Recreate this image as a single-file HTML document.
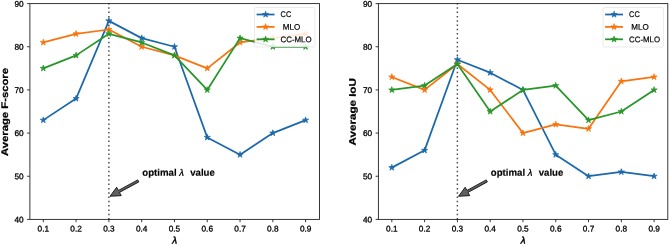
<!DOCTYPE html>
<html><head><meta charset="utf-8"><style>
html,body{margin:0;padding:0;background:#fff;}
svg{display:block;will-change:transform;}
text{font-family:"Liberation Sans",sans-serif;fill:#000;}
.tk{font-size:8.25px;stroke:#000;stroke-width:0.3px;}
.yl{font-size:9.6px;font-weight:bold;stroke:#000;stroke-width:0.25px;}
.lg{font-size:8.2px;stroke:#000;stroke-width:0.2px;}
.an{font-size:9.6px;font-weight:bold;stroke:#000;stroke-width:0.15px;}
.anl{font-size:9.4px;font-style:italic;stroke:#000;stroke-width:0.3px;}
.lam{font-size:9.7px;font-style:italic;stroke:#000;stroke-width:0.45px;}
</style></head><body>
<svg width="669" height="245" viewBox="0 0 669 245">
<rect width="669" height="245" fill="#fff"/>
<line x1="108.88" y1="3.00" x2="108.88" y2="219.60" stroke="#484848" stroke-width="1.45" stroke-dasharray="1.5 2.8"/>
<polyline points="43.30,120.13 76.09,98.55 108.88,20.86 141.67,38.13 174.46,46.76 207.25,137.40 240.04,154.66 272.83,133.08 305.62,120.13" fill="none" stroke="#1c69aa" stroke-width="1.75" stroke-linejoin="round"/>
<polygon points="43.30,116.88 42.57,119.13 40.21,119.13 42.12,120.52 41.39,122.76 43.30,121.37 45.21,122.76 44.48,120.52 46.39,119.13 44.03,119.13" fill="#1c69aa" stroke="#1c69aa" stroke-width="0.7"/>
<polygon points="76.09,95.30 75.36,97.55 73.00,97.55 74.91,98.94 74.18,101.18 76.09,99.79 78.00,101.18 77.27,98.94 79.18,97.55 76.82,97.55" fill="#1c69aa" stroke="#1c69aa" stroke-width="0.7"/>
<polygon points="108.88,17.61 108.15,19.86 105.79,19.86 107.70,21.25 106.97,23.49 108.88,22.11 110.79,23.49 110.06,21.25 111.97,19.86 109.61,19.86" fill="#1c69aa" stroke="#1c69aa" stroke-width="0.7"/>
<polygon points="141.67,34.88 140.94,37.12 138.58,37.12 140.49,38.51 139.76,40.76 141.67,39.37 143.58,40.76 142.85,38.51 144.76,37.12 142.40,37.12" fill="#1c69aa" stroke="#1c69aa" stroke-width="0.7"/>
<polygon points="174.46,43.51 173.73,45.76 171.37,45.76 173.28,47.14 172.55,49.39 174.46,48.00 176.37,49.39 175.64,47.14 177.55,45.76 175.19,45.76" fill="#1c69aa" stroke="#1c69aa" stroke-width="0.7"/>
<polygon points="207.25,134.15 206.52,136.39 204.16,136.39 206.07,137.78 205.34,140.03 207.25,138.64 209.16,140.03 208.43,137.78 210.34,136.39 207.98,136.39" fill="#1c69aa" stroke="#1c69aa" stroke-width="0.7"/>
<polygon points="240.04,151.41 239.31,153.66 236.95,153.66 238.86,155.04 238.13,157.29 240.04,155.90 241.95,157.29 241.22,155.04 243.13,153.66 240.77,153.66" fill="#1c69aa" stroke="#1c69aa" stroke-width="0.7"/>
<polygon points="272.83,129.83 272.10,132.08 269.74,132.08 271.65,133.46 270.92,135.71 272.83,134.32 274.74,135.71 274.01,133.46 275.92,132.08 273.56,132.08" fill="#1c69aa" stroke="#1c69aa" stroke-width="0.7"/>
<polygon points="305.62,116.88 304.89,119.13 302.53,119.13 304.44,120.52 303.71,122.76 305.62,121.37 307.53,122.76 306.80,120.52 308.71,119.13 306.35,119.13" fill="#1c69aa" stroke="#1c69aa" stroke-width="0.7"/>
<polyline points="43.30,42.44 76.09,33.81 108.88,29.50 141.67,46.76 174.46,55.39 207.25,68.34 240.04,42.44 272.83,38.13 305.62,33.81" fill="none" stroke="#f7740f" stroke-width="1.75" stroke-linejoin="round"/>
<polygon points="43.30,39.19 42.57,41.44 40.21,41.44 42.12,42.83 41.39,45.07 43.30,43.69 45.21,45.07 44.48,42.83 46.39,41.44 44.03,41.44" fill="#f7740f" stroke="#f7740f" stroke-width="0.7"/>
<polygon points="76.09,30.56 75.36,32.81 73.00,32.81 74.91,34.20 74.18,36.44 76.09,35.05 78.00,36.44 77.27,34.20 79.18,32.81 76.82,32.81" fill="#f7740f" stroke="#f7740f" stroke-width="0.7"/>
<polygon points="108.88,26.25 108.15,28.49 105.79,28.49 107.70,29.88 106.97,32.13 108.88,30.74 110.79,32.13 110.06,29.88 111.97,28.49 109.61,28.49" fill="#f7740f" stroke="#f7740f" stroke-width="0.7"/>
<polygon points="141.67,43.51 140.94,45.76 138.58,45.76 140.49,47.14 139.76,49.39 141.67,48.00 143.58,49.39 142.85,47.14 144.76,45.76 142.40,45.76" fill="#f7740f" stroke="#f7740f" stroke-width="0.7"/>
<polygon points="174.46,52.14 173.73,54.39 171.37,54.39 173.28,55.78 172.55,58.02 174.46,56.63 176.37,58.02 175.64,55.78 177.55,54.39 175.19,54.39" fill="#f7740f" stroke="#f7740f" stroke-width="0.7"/>
<polygon points="207.25,65.09 206.52,67.34 204.16,67.34 206.07,68.72 205.34,70.97 207.25,69.58 209.16,70.97 208.43,68.72 210.34,67.34 207.98,67.34" fill="#f7740f" stroke="#f7740f" stroke-width="0.7"/>
<polygon points="240.04,39.19 239.31,41.44 236.95,41.44 238.86,42.83 238.13,45.07 240.04,43.69 241.95,45.07 241.22,42.83 243.13,41.44 240.77,41.44" fill="#f7740f" stroke="#f7740f" stroke-width="0.7"/>
<polygon points="272.83,34.88 272.10,37.12 269.74,37.12 271.65,38.51 270.92,40.76 272.83,39.37 274.74,40.76 274.01,38.51 275.92,37.12 273.56,37.12" fill="#f7740f" stroke="#f7740f" stroke-width="0.7"/>
<polygon points="305.62,30.56 304.89,32.81 302.53,32.81 304.44,34.20 303.71,36.44 305.62,35.05 307.53,36.44 306.80,34.20 308.71,32.81 306.35,32.81" fill="#f7740f" stroke="#f7740f" stroke-width="0.7"/>
<polyline points="43.30,68.34 76.09,55.39 108.88,33.81 141.67,42.44 174.46,55.39 207.25,89.92 240.04,38.13 272.83,46.76 305.62,46.76" fill="none" stroke="#289629" stroke-width="1.75" stroke-linejoin="round"/>
<polygon points="43.30,65.09 42.57,67.34 40.21,67.34 42.12,68.72 41.39,70.97 43.30,69.58 45.21,70.97 44.48,68.72 46.39,67.34 44.03,67.34" fill="#289629" stroke="#289629" stroke-width="0.7"/>
<polygon points="76.09,52.14 75.36,54.39 73.00,54.39 74.91,55.78 74.18,58.02 76.09,56.63 78.00,58.02 77.27,55.78 79.18,54.39 76.82,54.39" fill="#289629" stroke="#289629" stroke-width="0.7"/>
<polygon points="108.88,30.56 108.15,32.81 105.79,32.81 107.70,34.20 106.97,36.44 108.88,35.05 110.79,36.44 110.06,34.20 111.97,32.81 109.61,32.81" fill="#289629" stroke="#289629" stroke-width="0.7"/>
<polygon points="141.67,39.19 140.94,41.44 138.58,41.44 140.49,42.83 139.76,45.07 141.67,43.69 143.58,45.07 142.85,42.83 144.76,41.44 142.40,41.44" fill="#289629" stroke="#289629" stroke-width="0.7"/>
<polygon points="174.46,52.14 173.73,54.39 171.37,54.39 173.28,55.78 172.55,58.02 174.46,56.63 176.37,58.02 175.64,55.78 177.55,54.39 175.19,54.39" fill="#289629" stroke="#289629" stroke-width="0.7"/>
<polygon points="207.25,86.67 206.52,88.92 204.16,88.92 206.07,90.30 205.34,92.55 207.25,91.16 209.16,92.55 208.43,90.30 210.34,88.92 207.98,88.92" fill="#289629" stroke="#289629" stroke-width="0.7"/>
<polygon points="240.04,34.88 239.31,37.12 236.95,37.12 238.86,38.51 238.13,40.76 240.04,39.37 241.95,40.76 241.22,38.51 243.13,37.12 240.77,37.12" fill="#289629" stroke="#289629" stroke-width="0.7"/>
<polygon points="272.83,43.51 272.10,45.76 269.74,45.76 271.65,47.14 270.92,49.39 272.83,48.00 274.74,49.39 274.01,47.14 275.92,45.76 273.56,45.76" fill="#289629" stroke="#289629" stroke-width="0.7"/>
<polygon points="305.62,43.51 304.89,45.76 302.53,45.76 304.44,47.14 303.71,49.39 305.62,48.00 307.53,49.39 306.80,47.14 308.71,45.76 306.35,45.76" fill="#289629" stroke="#289629" stroke-width="0.7"/>
<rect x="29.9" y="3.6" width="289.60" height="215.80" fill="none" stroke="#222" stroke-width="0.9"/>
<line x1="27.099999999999998" y1="219.40" x2="29.9" y2="219.40" stroke="#222" stroke-width="0.9"/>
<text x="23.70" y="222.45" class="tk" text-anchor="end" transform="rotate(0.03 23.70 222.45)">40</text>
<line x1="27.099999999999998" y1="176.24" x2="29.9" y2="176.24" stroke="#222" stroke-width="0.9"/>
<text x="23.70" y="179.29" class="tk" text-anchor="end" transform="rotate(0.03 23.70 179.29)">50</text>
<line x1="27.099999999999998" y1="133.08" x2="29.9" y2="133.08" stroke="#222" stroke-width="0.9"/>
<text x="23.70" y="136.13" class="tk" text-anchor="end" transform="rotate(0.03 23.70 136.13)">60</text>
<line x1="27.099999999999998" y1="89.92" x2="29.9" y2="89.92" stroke="#222" stroke-width="0.9"/>
<text x="23.70" y="92.97" class="tk" text-anchor="end" transform="rotate(0.03 23.70 92.97)">70</text>
<line x1="27.099999999999998" y1="46.76" x2="29.9" y2="46.76" stroke="#222" stroke-width="0.9"/>
<text x="23.70" y="49.81" class="tk" text-anchor="end" transform="rotate(0.03 23.70 49.81)">80</text>
<line x1="27.099999999999998" y1="3.60" x2="29.9" y2="3.60" stroke="#222" stroke-width="0.9"/>
<text x="23.70" y="6.65" class="tk" text-anchor="end" transform="rotate(0.03 23.70 6.65)">90</text>
<line x1="43.30" y1="219.4" x2="43.30" y2="222.20000000000002" stroke="#222" stroke-width="0.9"/>
<text x="43.30" y="231.50" class="tk" text-anchor="middle" transform="rotate(0.03 43.30 231.50)">0.1</text>
<line x1="76.09" y1="219.4" x2="76.09" y2="222.20000000000002" stroke="#222" stroke-width="0.9"/>
<text x="76.09" y="231.50" class="tk" text-anchor="middle" transform="rotate(0.03 76.09 231.50)">0.2</text>
<line x1="108.88" y1="219.4" x2="108.88" y2="222.20000000000002" stroke="#222" stroke-width="0.9"/>
<text x="108.88" y="231.50" class="tk" text-anchor="middle" transform="rotate(0.03 108.88 231.50)">0.3</text>
<line x1="141.67" y1="219.4" x2="141.67" y2="222.20000000000002" stroke="#222" stroke-width="0.9"/>
<text x="141.67" y="231.50" class="tk" text-anchor="middle" transform="rotate(0.03 141.67 231.50)">0.4</text>
<line x1="174.46" y1="219.4" x2="174.46" y2="222.20000000000002" stroke="#222" stroke-width="0.9"/>
<text x="174.46" y="231.50" class="tk" text-anchor="middle" transform="rotate(0.03 174.46 231.50)">0.5</text>
<line x1="207.25" y1="219.4" x2="207.25" y2="222.20000000000002" stroke="#222" stroke-width="0.9"/>
<text x="207.25" y="231.50" class="tk" text-anchor="middle" transform="rotate(0.03 207.25 231.50)">0.6</text>
<line x1="240.04" y1="219.4" x2="240.04" y2="222.20000000000002" stroke="#222" stroke-width="0.9"/>
<text x="240.04" y="231.50" class="tk" text-anchor="middle" transform="rotate(0.03 240.04 231.50)">0.7</text>
<line x1="272.83" y1="219.4" x2="272.83" y2="222.20000000000002" stroke="#222" stroke-width="0.9"/>
<text x="272.83" y="231.50" class="tk" text-anchor="middle" transform="rotate(0.03 272.83 231.50)">0.8</text>
<line x1="305.62" y1="219.4" x2="305.62" y2="222.20000000000002" stroke="#222" stroke-width="0.9"/>
<text x="305.62" y="231.50" class="tk" text-anchor="middle" transform="rotate(0.03 305.62 231.50)">0.9</text>
<text x="174.70" y="243.40" class="lam" text-anchor="middle" transform="rotate(0.03 174.70 243.40)">λ</text>
<text transform="translate(8.10,112.00) rotate(-89.97)" text-anchor="middle" class="yl" textLength="88" lengthAdjust="spacingAndGlyphs">Average F-score</text>
<rect x="254.60" y="7.5" width="60.3" height="39.5" rx="1.6" fill="#fff" fill-opacity="0.84" stroke="#ccc" stroke-opacity="0.55" stroke-width="0.75"/>
<line x1="256.60" y1="14.50" x2="274.50" y2="14.50" stroke="#1c69aa" stroke-width="1.75"/>
<polygon points="265.60,11.25 264.87,13.50 262.51,13.50 264.42,14.88 263.69,17.13 265.60,15.74 267.51,17.13 266.78,14.88 268.69,13.50 266.33,13.50" fill="#1c69aa" stroke="#1c69aa" stroke-width="0.7"/>
<text x="280.60" y="17.45" class="lg" textLength="10.6" lengthAdjust="spacingAndGlyphs" transform="rotate(0.03 280.60 17.45)">CC</text>
<line x1="256.60" y1="26.90" x2="274.50" y2="26.90" stroke="#f7740f" stroke-width="1.75"/>
<polygon points="265.60,23.65 264.87,25.90 262.51,25.90 264.42,27.28 263.69,29.53 265.60,28.14 267.51,29.53 266.78,27.28 268.69,25.90 266.33,25.90" fill="#f7740f" stroke="#f7740f" stroke-width="0.7"/>
<text x="282.80" y="29.85" class="lg" textLength="17.4" lengthAdjust="spacingAndGlyphs" transform="rotate(0.03 282.80 29.85)">MLO</text>
<line x1="256.60" y1="39.30" x2="274.50" y2="39.30" stroke="#289629" stroke-width="1.75"/>
<polygon points="265.60,36.05 264.87,38.30 262.51,38.30 264.42,39.68 263.69,41.93 265.60,40.54 267.51,41.93 266.78,39.68 268.69,38.30 266.33,38.30" fill="#289629" stroke="#289629" stroke-width="0.7"/>
<text x="280.60" y="42.25" class="lg" textLength="31.0" lengthAdjust="spacingAndGlyphs" transform="rotate(0.03 280.60 42.25)">CC-MLO</text>
<text x="142.30" y="175.80" class="an" textLength="34.3" lengthAdjust="spacingAndGlyphs" transform="rotate(0.03 142.30 175.80)">optimal</text>
<text x="179.30" y="175.80" class="anl" transform="rotate(0.03 179.30 175.80)">λ</text>
<text x="190.20" y="175.80" class="an" textLength="24.6" lengthAdjust="spacingAndGlyphs" transform="rotate(0.03 190.20 175.80)">value</text>
<polygon points="137.75,179.89 118.41,190.41 116.67,187.21 110.00,196.30 121.25,195.64 119.51,192.43 138.85,181.91" fill="#606060" stroke="#000" stroke-width="0.8"/>
<line x1="457.38" y1="3.00" x2="457.38" y2="219.60" stroke="#484848" stroke-width="1.45" stroke-dasharray="1.5 2.8"/>
<polyline points="391.80,167.61 424.59,150.34 457.38,59.71 490.17,72.66 522.96,89.92 555.75,154.66 588.54,176.24 621.33,171.92 654.12,176.24" fill="none" stroke="#1c69aa" stroke-width="1.75" stroke-linejoin="round"/>
<polygon points="391.80,164.36 391.07,166.60 388.71,166.60 390.62,167.99 389.89,170.24 391.80,168.85 393.71,170.24 392.98,167.99 394.89,166.60 392.53,166.60" fill="#1c69aa" stroke="#1c69aa" stroke-width="0.7"/>
<polygon points="424.59,147.09 423.86,149.34 421.50,149.34 423.41,150.73 422.68,152.97 424.59,151.59 426.50,152.97 425.77,150.73 427.68,149.34 425.32,149.34" fill="#1c69aa" stroke="#1c69aa" stroke-width="0.7"/>
<polygon points="457.38,56.46 456.65,58.70 454.29,58.70 456.20,60.09 455.47,62.34 457.38,60.95 459.29,62.34 458.56,60.09 460.47,58.70 458.11,58.70" fill="#1c69aa" stroke="#1c69aa" stroke-width="0.7"/>
<polygon points="490.17,69.41 489.44,71.65 487.08,71.65 488.99,73.04 488.26,75.29 490.17,73.90 492.08,75.29 491.35,73.04 493.26,71.65 490.90,71.65" fill="#1c69aa" stroke="#1c69aa" stroke-width="0.7"/>
<polygon points="522.96,86.67 522.23,88.92 519.87,88.92 521.78,90.30 521.05,92.55 522.96,91.16 524.87,92.55 524.14,90.30 526.05,88.92 523.69,88.92" fill="#1c69aa" stroke="#1c69aa" stroke-width="0.7"/>
<polygon points="555.75,151.41 555.02,153.66 552.66,153.66 554.57,155.04 553.84,157.29 555.75,155.90 557.66,157.29 556.93,155.04 558.84,153.66 556.48,153.66" fill="#1c69aa" stroke="#1c69aa" stroke-width="0.7"/>
<polygon points="588.54,172.99 587.81,175.24 585.45,175.24 587.36,176.62 586.63,178.87 588.54,177.48 590.45,178.87 589.72,176.62 591.63,175.24 589.27,175.24" fill="#1c69aa" stroke="#1c69aa" stroke-width="0.7"/>
<polygon points="621.33,168.67 620.60,170.92 618.24,170.92 620.15,172.31 619.42,174.55 621.33,173.17 623.24,174.55 622.51,172.31 624.42,170.92 622.06,170.92" fill="#1c69aa" stroke="#1c69aa" stroke-width="0.7"/>
<polygon points="654.12,172.99 653.39,175.24 651.03,175.24 652.94,176.62 652.21,178.87 654.12,177.48 656.03,178.87 655.30,176.62 657.21,175.24 654.85,175.24" fill="#1c69aa" stroke="#1c69aa" stroke-width="0.7"/>
<polyline points="391.80,76.97 424.59,89.92 457.38,64.02 490.17,89.92 522.96,133.08 555.75,124.45 588.54,128.76 621.33,81.29 654.12,76.97" fill="none" stroke="#f7740f" stroke-width="1.75" stroke-linejoin="round"/>
<polygon points="391.80,73.72 391.07,75.97 388.71,75.97 390.62,77.36 389.89,79.60 391.80,78.21 393.71,79.60 392.98,77.36 394.89,75.97 392.53,75.97" fill="#f7740f" stroke="#f7740f" stroke-width="0.7"/>
<polygon points="424.59,86.67 423.86,88.92 421.50,88.92 423.41,90.30 422.68,92.55 424.59,91.16 426.50,92.55 425.77,90.30 427.68,88.92 425.32,88.92" fill="#f7740f" stroke="#f7740f" stroke-width="0.7"/>
<polygon points="457.38,60.77 456.65,63.02 454.29,63.02 456.20,64.41 455.47,66.65 457.38,65.27 459.29,66.65 458.56,64.41 460.47,63.02 458.11,63.02" fill="#f7740f" stroke="#f7740f" stroke-width="0.7"/>
<polygon points="490.17,86.67 489.44,88.92 487.08,88.92 488.99,90.30 488.26,92.55 490.17,91.16 492.08,92.55 491.35,90.30 493.26,88.92 490.90,88.92" fill="#f7740f" stroke="#f7740f" stroke-width="0.7"/>
<polygon points="522.96,129.83 522.23,132.08 519.87,132.08 521.78,133.46 521.05,135.71 522.96,134.32 524.87,135.71 524.14,133.46 526.05,132.08 523.69,132.08" fill="#f7740f" stroke="#f7740f" stroke-width="0.7"/>
<polygon points="555.75,121.20 555.02,123.44 552.66,123.44 554.57,124.83 553.84,127.08 555.75,125.69 557.66,127.08 556.93,124.83 558.84,123.44 556.48,123.44" fill="#f7740f" stroke="#f7740f" stroke-width="0.7"/>
<polygon points="588.54,125.51 587.81,127.76 585.45,127.76 587.36,129.15 586.63,131.39 588.54,130.01 590.45,131.39 589.72,129.15 591.63,127.76 589.27,127.76" fill="#f7740f" stroke="#f7740f" stroke-width="0.7"/>
<polygon points="621.33,78.04 620.60,80.28 618.24,80.28 620.15,81.67 619.42,83.92 621.33,82.53 623.24,83.92 622.51,81.67 624.42,80.28 622.06,80.28" fill="#f7740f" stroke="#f7740f" stroke-width="0.7"/>
<polygon points="654.12,73.72 653.39,75.97 651.03,75.97 652.94,77.36 652.21,79.60 654.12,78.21 656.03,79.60 655.30,77.36 657.21,75.97 654.85,75.97" fill="#f7740f" stroke="#f7740f" stroke-width="0.7"/>
<polyline points="391.80,89.92 424.59,85.60 457.38,64.02 490.17,111.50 522.96,89.92 555.75,85.60 588.54,120.13 621.33,111.50 654.12,89.92" fill="none" stroke="#289629" stroke-width="1.75" stroke-linejoin="round"/>
<polygon points="391.80,86.67 391.07,88.92 388.71,88.92 390.62,90.30 389.89,92.55 391.80,91.16 393.71,92.55 392.98,90.30 394.89,88.92 392.53,88.92" fill="#289629" stroke="#289629" stroke-width="0.7"/>
<polygon points="424.59,82.35 423.86,84.60 421.50,84.60 423.41,85.99 422.68,88.23 424.59,86.85 426.50,88.23 425.77,85.99 427.68,84.60 425.32,84.60" fill="#289629" stroke="#289629" stroke-width="0.7"/>
<polygon points="457.38,60.77 456.65,63.02 454.29,63.02 456.20,64.41 455.47,66.65 457.38,65.27 459.29,66.65 458.56,64.41 460.47,63.02 458.11,63.02" fill="#289629" stroke="#289629" stroke-width="0.7"/>
<polygon points="490.17,108.25 489.44,110.50 487.08,110.50 488.99,111.88 488.26,114.13 490.17,112.74 492.08,114.13 491.35,111.88 493.26,110.50 490.90,110.50" fill="#289629" stroke="#289629" stroke-width="0.7"/>
<polygon points="522.96,86.67 522.23,88.92 519.87,88.92 521.78,90.30 521.05,92.55 522.96,91.16 524.87,92.55 524.14,90.30 526.05,88.92 523.69,88.92" fill="#289629" stroke="#289629" stroke-width="0.7"/>
<polygon points="555.75,82.35 555.02,84.60 552.66,84.60 554.57,85.99 553.84,88.23 555.75,86.85 557.66,88.23 556.93,85.99 558.84,84.60 556.48,84.60" fill="#289629" stroke="#289629" stroke-width="0.7"/>
<polygon points="588.54,116.88 587.81,119.13 585.45,119.13 587.36,120.52 586.63,122.76 588.54,121.37 590.45,122.76 589.72,120.52 591.63,119.13 589.27,119.13" fill="#289629" stroke="#289629" stroke-width="0.7"/>
<polygon points="621.33,108.25 620.60,110.50 618.24,110.50 620.15,111.88 619.42,114.13 621.33,112.74 623.24,114.13 622.51,111.88 624.42,110.50 622.06,110.50" fill="#289629" stroke="#289629" stroke-width="0.7"/>
<polygon points="654.12,86.67 653.39,88.92 651.03,88.92 652.94,90.30 652.21,92.55 654.12,91.16 656.03,92.55 655.30,90.30 657.21,88.92 654.85,88.92" fill="#289629" stroke="#289629" stroke-width="0.7"/>
<rect x="378.4" y="3.6" width="289.40" height="215.80" fill="none" stroke="#222" stroke-width="0.9"/>
<line x1="375.59999999999997" y1="219.40" x2="378.4" y2="219.40" stroke="#222" stroke-width="0.9"/>
<text x="372.20" y="222.45" class="tk" text-anchor="end" transform="rotate(0.03 372.20 222.45)">40</text>
<line x1="375.59999999999997" y1="176.24" x2="378.4" y2="176.24" stroke="#222" stroke-width="0.9"/>
<text x="372.20" y="179.29" class="tk" text-anchor="end" transform="rotate(0.03 372.20 179.29)">50</text>
<line x1="375.59999999999997" y1="133.08" x2="378.4" y2="133.08" stroke="#222" stroke-width="0.9"/>
<text x="372.20" y="136.13" class="tk" text-anchor="end" transform="rotate(0.03 372.20 136.13)">60</text>
<line x1="375.59999999999997" y1="89.92" x2="378.4" y2="89.92" stroke="#222" stroke-width="0.9"/>
<text x="372.20" y="92.97" class="tk" text-anchor="end" transform="rotate(0.03 372.20 92.97)">70</text>
<line x1="375.59999999999997" y1="46.76" x2="378.4" y2="46.76" stroke="#222" stroke-width="0.9"/>
<text x="372.20" y="49.81" class="tk" text-anchor="end" transform="rotate(0.03 372.20 49.81)">80</text>
<line x1="375.59999999999997" y1="3.60" x2="378.4" y2="3.60" stroke="#222" stroke-width="0.9"/>
<text x="372.20" y="6.65" class="tk" text-anchor="end" transform="rotate(0.03 372.20 6.65)">90</text>
<line x1="391.80" y1="219.4" x2="391.80" y2="222.20000000000002" stroke="#222" stroke-width="0.9"/>
<text x="391.80" y="231.50" class="tk" text-anchor="middle" transform="rotate(0.03 391.80 231.50)">0.1</text>
<line x1="424.59" y1="219.4" x2="424.59" y2="222.20000000000002" stroke="#222" stroke-width="0.9"/>
<text x="424.59" y="231.50" class="tk" text-anchor="middle" transform="rotate(0.03 424.59 231.50)">0.2</text>
<line x1="457.38" y1="219.4" x2="457.38" y2="222.20000000000002" stroke="#222" stroke-width="0.9"/>
<text x="457.38" y="231.50" class="tk" text-anchor="middle" transform="rotate(0.03 457.38 231.50)">0.3</text>
<line x1="490.17" y1="219.4" x2="490.17" y2="222.20000000000002" stroke="#222" stroke-width="0.9"/>
<text x="490.17" y="231.50" class="tk" text-anchor="middle" transform="rotate(0.03 490.17 231.50)">0.4</text>
<line x1="522.96" y1="219.4" x2="522.96" y2="222.20000000000002" stroke="#222" stroke-width="0.9"/>
<text x="522.96" y="231.50" class="tk" text-anchor="middle" transform="rotate(0.03 522.96 231.50)">0.5</text>
<line x1="555.75" y1="219.4" x2="555.75" y2="222.20000000000002" stroke="#222" stroke-width="0.9"/>
<text x="555.75" y="231.50" class="tk" text-anchor="middle" transform="rotate(0.03 555.75 231.50)">0.6</text>
<line x1="588.54" y1="219.4" x2="588.54" y2="222.20000000000002" stroke="#222" stroke-width="0.9"/>
<text x="588.54" y="231.50" class="tk" text-anchor="middle" transform="rotate(0.03 588.54 231.50)">0.7</text>
<line x1="621.33" y1="219.4" x2="621.33" y2="222.20000000000002" stroke="#222" stroke-width="0.9"/>
<text x="621.33" y="231.50" class="tk" text-anchor="middle" transform="rotate(0.03 621.33 231.50)">0.8</text>
<line x1="654.12" y1="219.4" x2="654.12" y2="222.20000000000002" stroke="#222" stroke-width="0.9"/>
<text x="654.12" y="231.50" class="tk" text-anchor="middle" transform="rotate(0.03 654.12 231.50)">0.9</text>
<text x="523.10" y="243.40" class="lam" text-anchor="middle" transform="rotate(0.03 523.10 243.40)">λ</text>
<text transform="translate(355.70,111.80) rotate(-89.97)" text-anchor="middle" class="yl" textLength="67.2" lengthAdjust="spacingAndGlyphs">Average IoU</text>
<rect x="603.10" y="7.5" width="60.3" height="39.5" rx="1.6" fill="#fff" fill-opacity="0.84" stroke="#ccc" stroke-opacity="0.55" stroke-width="0.75"/>
<line x1="605.10" y1="14.50" x2="623.00" y2="14.50" stroke="#1c69aa" stroke-width="1.75"/>
<polygon points="614.10,11.25 613.37,13.50 611.01,13.50 612.92,14.88 612.19,17.13 614.10,15.74 616.01,17.13 615.28,14.88 617.19,13.50 614.83,13.50" fill="#1c69aa" stroke="#1c69aa" stroke-width="0.7"/>
<text x="629.10" y="17.45" class="lg" textLength="10.6" lengthAdjust="spacingAndGlyphs" transform="rotate(0.03 629.10 17.45)">CC</text>
<line x1="605.10" y1="26.90" x2="623.00" y2="26.90" stroke="#f7740f" stroke-width="1.75"/>
<polygon points="614.10,23.65 613.37,25.90 611.01,25.90 612.92,27.28 612.19,29.53 614.10,28.14 616.01,29.53 615.28,27.28 617.19,25.90 614.83,25.90" fill="#f7740f" stroke="#f7740f" stroke-width="0.7"/>
<text x="631.30" y="29.85" class="lg" textLength="17.4" lengthAdjust="spacingAndGlyphs" transform="rotate(0.03 631.30 29.85)">MLO</text>
<line x1="605.10" y1="39.30" x2="623.00" y2="39.30" stroke="#289629" stroke-width="1.75"/>
<polygon points="614.10,36.05 613.37,38.30 611.01,38.30 612.92,39.68 612.19,41.93 614.10,40.54 616.01,41.93 615.28,39.68 617.19,38.30 614.83,38.30" fill="#289629" stroke="#289629" stroke-width="0.7"/>
<text x="629.10" y="42.25" class="lg" textLength="31.0" lengthAdjust="spacingAndGlyphs" transform="rotate(0.03 629.10 42.25)">CC-MLO</text>
<text x="490.80" y="175.80" class="an" textLength="34.3" lengthAdjust="spacingAndGlyphs" transform="rotate(0.03 490.80 175.80)">optimal</text>
<text x="527.80" y="175.80" class="anl" transform="rotate(0.03 527.80 175.80)">λ</text>
<text x="538.70" y="175.80" class="an" textLength="24.6" lengthAdjust="spacingAndGlyphs" transform="rotate(0.03 538.70 175.80)">value</text>
<polygon points="486.25,179.89 466.91,190.41 465.17,187.21 458.50,196.30 469.75,195.64 468.01,192.43 487.35,181.91" fill="#606060" stroke="#000" stroke-width="0.8"/>
</svg>
</body></html>
